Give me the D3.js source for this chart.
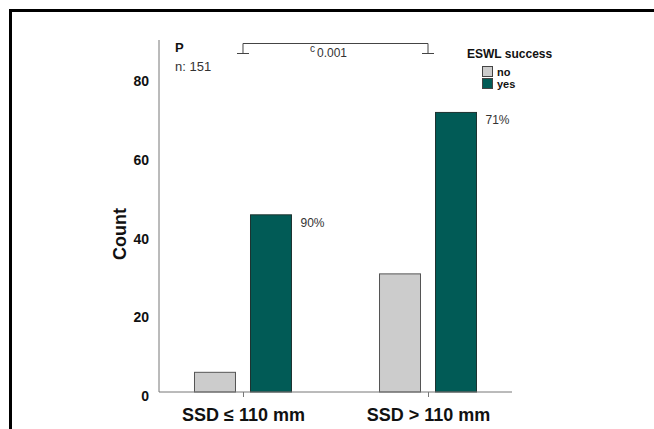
<!DOCTYPE html>
<html>
<head>
<meta charset="utf-8">
<script src="https://cdn.jsdelivr.net/npm/d3@7"></script>
<style>
  body { margin: 0; background: #fff; }
  svg { display: block; font-family: "Liberation Sans", Arial, sans-serif; }
</style>
</head>
<body>
<div class="chart"></div>
<script>
// data
const groups = ["SSD \u2264 110 mm", "SSD > 110 mm"]
const outcomes = ["no", "yes"]
const noCounts = [5, 30]
const yesCounts = [45, 71]
const yesPercent = ["90%", "71%"]
const yTicks = [0, 20, 40, 60, 80]

const width = 654
const height = 429
const colors = { no: "#cccccc", yes: "#015b56" }

const svg = d3.select(".chart").append("svg")
  .attr("width", width)
  .attr("height", height)

// outer frame (runs off the right and bottom edge)
svg.append("path")
  .attr("d", "M10.5,700 V10.5 H700")
  .attr("fill", "none")
  .attr("stroke", "#000")
  .attr("stroke-width", 3)

const x0 = 159, x1 = 512, yBase = 392, yTop = 40

const x = d3.scalePoint()
  .domain(groups)
  .range([x0, x1])
  .padding(0.454)

const xSub = d3.scaleBand()
  .domain(outcomes)
  .range([-56, 56])
  .paddingInner(0.268)
  .paddingOuter(0.134)

const y = d3.scaleLinear()
  .domain([0, 89.4])
  .range([yBase, yTop])

const rows = groups.map((g, i) => ({ group: g, no: noCounts[i], yes: yesCounts[i], pct: yesPercent[i] }))

// bars
const g = svg.append("g")
rows.forEach(r => {
  outcomes.forEach(o => {
    g.append("rect")
      .attr("x", x(r.group) + xSub(o))
      .attr("y", y(r[o]))
      .attr("width", xSub.bandwidth())
      .attr("height", yBase - y(r[o]))
      .attr("fill", colors[o])
      .attr("stroke", o === "no" ? "#555" : "#1d3331")
      .attr("stroke-width", 1)
  })
  g.append("text")
    .attr("x", x(r.group) + xSub("yes") + xSub.bandwidth() + 9)
    .attr("y", y(r.yes) + 12)
    .attr("font-size", 12)
    .attr("fill", "#333")
    .text(r.pct)
})

// axes
const yAxis = svg.append("g")
  .attr("transform", `translate(${x0},0)`)
  .call(d3.axisLeft(y).tickValues(yTicks).tickSize(0).tickPadding(10))
yAxis.select(".domain").attr("stroke", "#777").attr("d", `M0,${yTop}V${yBase}`)
yAxis.selectAll("text")
  .attr("font-size", 14)
  .attr("font-weight", "bold")
  .attr("fill", "#111")
  .attr("dy", "0.62em")
  .attr("font-family", "Liberation Sans, Arial, sans-serif")

const xAxis = svg.append("g")
  .attr("transform", `translate(0,${yBase})`)
  .call(d3.axisBottom(x).tickSize(5).tickPadding(11))
xAxis.select(".domain").attr("stroke", "#777").attr("d", `M${x0},0H${x1}`)
xAxis.selectAll(".tick line").attr("stroke", "#777")
xAxis.selectAll("text")
  .attr("font-size", 18)
  .attr("font-weight", "bold")
  .attr("fill", "#111")
  .attr("font-family", "Liberation Sans, Arial, sans-serif")

svg.append("text")
  .attr("transform", `translate(126,${(yTop + yBase) / 2 + 18}) rotate(-90)`)
  .attr("text-anchor", "middle")
  .attr("font-size", 18)
  .attr("font-weight", "bold")
  .attr("fill", "#111")
  .text("Count")

// significance annotation
svg.append("text").attr("x", 175).attr("y", 52)
  .attr("font-size", 13).attr("font-weight", "bold").attr("fill", "#111").text("P")
svg.append("text").attr("x", 175).attr("y", 71)
  .attr("font-size", 13).attr("fill", "#333").text("n: 151")

const bx0 = x(groups[0]), bx1 = x(groups[1])
svg.append("path")
  .attr("d", `M${bx0},53V43.5H${bx1}V53M${bx0 - 6},53.5H${bx0 + 6}M${bx1 - 6},53.5H${bx1 + 6}`)
  .attr("fill", "none")
  .attr("stroke", "#444")
  .attr("stroke-width", 1)
const pt = svg.append("text").attr("x", 310).attr("y", 57).attr("font-size", 12).attr("fill", "#333")
pt.append("tspan").attr("dy", -5).attr("font-size", 10).text("c")
pt.append("tspan").attr("dx", 2).attr("dy", 5).text("0.001")

// legend
svg.append("text").attr("x", 467).attr("y", 58)
  .attr("font-size", 12).attr("font-weight", "bold").attr("fill", "#111").text("ESWL success")
outcomes.forEach((o, i) => {
  svg.append("rect")
    .attr("x", 482.5).attr("y", 66.5 + i * 12)
    .attr("width", 10).attr("height", 10)
    .attr("fill", colors[o]).attr("stroke", "#444")
  svg.append("text")
    .attr("x", 497).attr("y", 75.5 + i * 12.5)
    .attr("font-size", 11).attr("font-weight", "bold").attr("fill", "#111").text(o)
})
</script>
</body>
</html>
